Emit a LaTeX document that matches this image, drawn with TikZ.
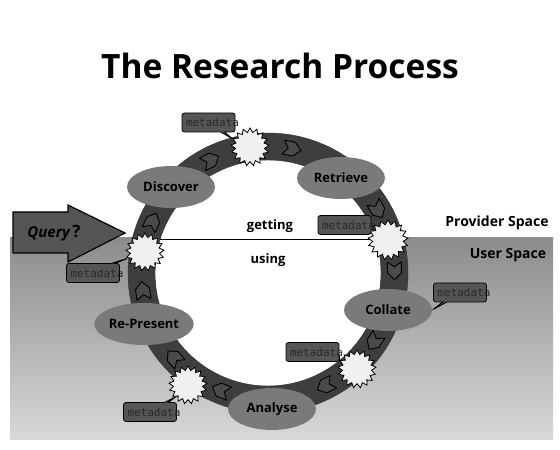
\documentclass[tikz,border=0pt]{standalone}
\usepackage{fontspec}
\setmainfont{Open Sans}
\newfontfamily\metafont{DejaVu Sans Mono}
\usetikzlibrary{shapes.geometric,shapes.callouts}

\definecolor{ringgray}{HTML}{3E3E3E}
\definecolor{stagegray}{HTML}{7A7A7A}
\definecolor{boxgray}{HTML}{555555}
\definecolor{metatext}{HTML}{2A2A2A}
\definecolor{chevgray}{HTML}{4A4A4A}
\definecolor{burstfill}{HTML}{F0F0F0}
\definecolor{usertop}{HTML}{8C8C8C}
\definecolor{userbottom}{HTML}{D8D8D8}

\tikzset{
  stage/.style={ellipse, fill=stagegray, minimum width=88pt, minimum height=42pt,
    inner sep=0pt, font=\bfseries\fontsize{13}{15}\selectfont},
  burst/.style={star, star points=17, star point ratio=1.3, draw=black, thick,
    fill=burstfill, minimum size=38pt, inner sep=0pt},
  metabox/.style={rectangle callout, rounded corners=2.5pt, draw=black, thick,
    fill=boxgray, inner xsep=4pt, inner ysep=0pt, minimum height=19pt,
    callout pointer width=4pt, text=metatext,
    font=\metafont\fontsize{11}{13}\selectfont},
  chevron/.style={fill=chevgray, draw=black, line width=0.9pt, line join=round},
  spacelabel/.style={font=\bfseries\fontsize{14}{16}\selectfont},
  sidelabel/.style={font=\bfseries\fontsize{13}{15}\selectfont}
}
\newcommand{\meta}{\makebox[45pt][l]{metadata}}

\begin{document}
\begin{tikzpicture}[x=1pt, y=1pt]
    \useasboundingbox (0,0) rectangle (560,450);

    % User space and ring centre
    \shade[top color=usertop, bottom color=userbottom] (10,10) rectangle (553,212);
    \coordinate (ring) at (268,177);
    \fill[white] (ring) circle (113);

    % getting / using divider
    \coordinate (getL) at (160,211);
    \coordinate (getR) at (376,211);
    \draw[thick] (getL) -- (getR);

    % The ring
    \fill[ringgray, even odd rule] (ring) circle (140) (ring) circle (113);
    \draw[black!80] (ring) circle (140);
    \draw[black!80] (ring) circle (113);

    % Chevrons along the ring (clockwise)
    \begin{scope}[shift={(ring)}]
        \foreach \a in {117,79,30,1,-33,-63,-112,-138,-172,156}
            \draw[chevron, rotate=\a] (119.5,9) -- ++(0,-11) -- ++(7,-7)
                -- ++(7,7) -- ++(0,11) -- ++(-7,-5) -- cycle;
    \end{scope}

    % Query arrow
    \draw[fill=boxgray, line width=1.2pt, line join=miter]
        (13,197) -- (13,238) -- (68,238) -- (68,245) -- (125,217)
        -- (68,188) -- (68,197) -- cycle;
    \node (query) at (54,217) {\bfseries\itshape\fontsize{15}{17}\selectfont Query\,{\upshape\fontsize{17}{17}\selectfont ?}};

    % Stages
    \node[stage] (discover) at (171,263) {Discover};
    \node[stage] (retrieve) at (341,272) {Retrieve};
    \node[stage] (collate) at (388,140) {Collate};
    \node[stage] (analyse) at (272,41) {Analyse};
    \node[stage] (represent) at (144,126) {Re-Present};

    % Starbursts
    \node[burst] (sTop) at (250,303) {};
    \node[burst, minimum size=40pt] (sRight) at (388,210) {};
    \node[burst] (sLeft) at (145,198) {};
    \node[burst] (sLowL) at (188,65) {};
    \node[burst] (sLowR) at (357,81) {};

    % Metadata callouts
    \node[metabox, callout absolute pointer={(sTop.155)}] (mTop) at (208.5,327.5) {\meta};
    \node[metabox, callout absolute pointer={(sRight.140)}] (mRight) at (344.5,225) {\meta};
    \node[metabox, callout absolute pointer={(sLeft.200)}] (mLeft) at (93,177) {\meta};
    \node[metabox, callout absolute pointer={(collate.east)}] (mCollate) at (460,157.5) {\meta};
    \node[metabox, callout absolute pointer={(sLowR.155)}] (mLowR) at (312.5,98) {\meta};
    \node[metabox, callout absolute pointer={(sLowL.225)}] (mLowL) at (150,38) {\meta};

    % Texts
    \node (title) at (280,384) {\bfseries\fontsize{33.5}{38}\selectfont The Research Process};
    \node[sidelabel] (getting) at (270,224) {getting};
    \node[sidelabel] (using) at (268,190) {using};
    \node[spacelabel] (provider) at (497,227) {Provider Space};
    \node[spacelabel] (user) at (508,195) {User Space};
\end{tikzpicture}
\end{document}
